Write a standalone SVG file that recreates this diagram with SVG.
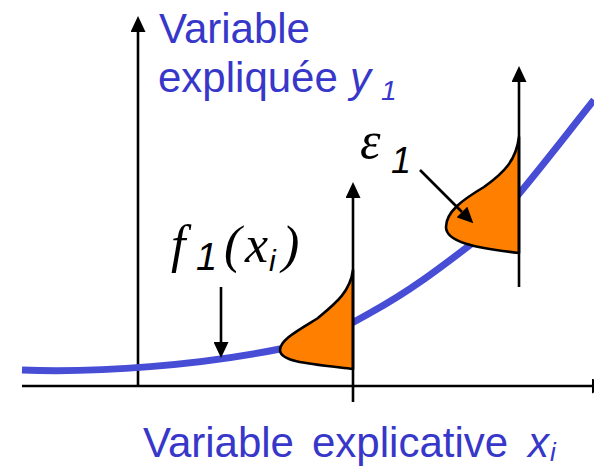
<svg xmlns="http://www.w3.org/2000/svg" width="594" height="466" viewBox="0 0 594 466">
  <defs>
    <marker id="ah" viewBox="0 0 16 15" markerWidth="16" markerHeight="15" refX="0" refY="7.5" orient="auto" markerUnits="userSpaceOnUse">
      <path d="M0,0 L16,7.5 L0,15 Z" fill="#000"/>
    </marker>
  </defs>
  <style>
    .ax { stroke: #000; stroke-width: 2.6; fill: none; }
    .arr { stroke: #000; stroke-width: 2.6; fill: none; marker-end: url(#ah); }
    .curve { stroke: #484dd6; stroke-width: 7; fill: none; }
    .dist { fill: #ff8000; stroke: #000; stroke-width: 2.6; stroke-linejoin: round; }
    .lbl { font-family: "Liberation Sans", Arial, sans-serif; font-size: 42px; fill: #3737c9; }
    .it { font-style: italic; }
    .math { font-family: "Liberation Serif", "Times New Roman", serif; font-style: italic; font-size: 52px; fill: #000; }
    .sub { font-family: "Liberation Sans", Arial, sans-serif; font-style: italic; fill: #000; }
  </style>

  <g id="axes">
    <line class="ax" x1="22" y1="386" x2="592" y2="386" marker-end="url(#ah)"/>
    <line class="arr" x1="138" y1="386" x2="138" y2="32"/>
  </g>

  <g id="regression-curve">
    <path class="curve" d="M22,370 C100,373 200,365 280,349 C320,341 340,330 370,313 C410,291 440,268 470,245 C500,222 550,155 594,100"/>
  </g>

  <g id="distribution-1">
    <path class="dist" d="M353,270 C350,292 336,303 318,318 C297,331 280,340 280,350 C280,362 310,364 353,369 Z"/>
  </g>
  <g id="distribution-2">
    <path class="dist" d="M519,137 C516,160 505,172 484,187 C462,200 446,212 446,227 C446,242 475,248 519,253 Z"/>
  </g>

  <g id="connectors">
    <line class="arr" x1="353" y1="402" x2="353" y2="198"/>
    <line class="arr" x1="519" y1="287" x2="519" y2="82"/>
    <line class="arr" x1="221" y1="287" x2="221" y2="342"/>
    <line class="arr" x1="420" y1="170" x2="462" y2="212"/>
  </g>

  <g id="label-y">
    <text class="lbl" x="159" y="43">Variable</text>
    <text class="lbl" x="158" y="92">expliquée <tspan class="it" x="350">y</tspan><tspan class="it" x="381" y="100" font-size="28">1</tspan></text>
  </g>

  <g id="label-x">
    <text class="lbl" x="143" y="457">Variable <tspan x="312">explicative</tspan> <tspan class="it" x="528">x</tspan><tspan class="it" x="550" y="461" font-size="26">i</tspan></text>
  </g>

  <g id="label-f">
    <text class="math" x="171" y="262">f</text>
    <text class="sub" x="196" y="270" font-size="38">1</text>
    <text class="math" x="224" y="262" font-style="normal" font-size="58">(</text>
    <text class="math" x="245" y="262">x</text>
    <text class="sub" x="269" y="271" font-size="30">i</text>
    <text class="math" x="282" y="262" font-style="normal" font-size="58">)</text>
  </g>

  <g id="label-eps">
    <text class="math" x="360" y="158" font-size="60">ε</text>
    <text class="sub" x="391" y="173" font-size="36">1</text>
  </g>
</svg>
